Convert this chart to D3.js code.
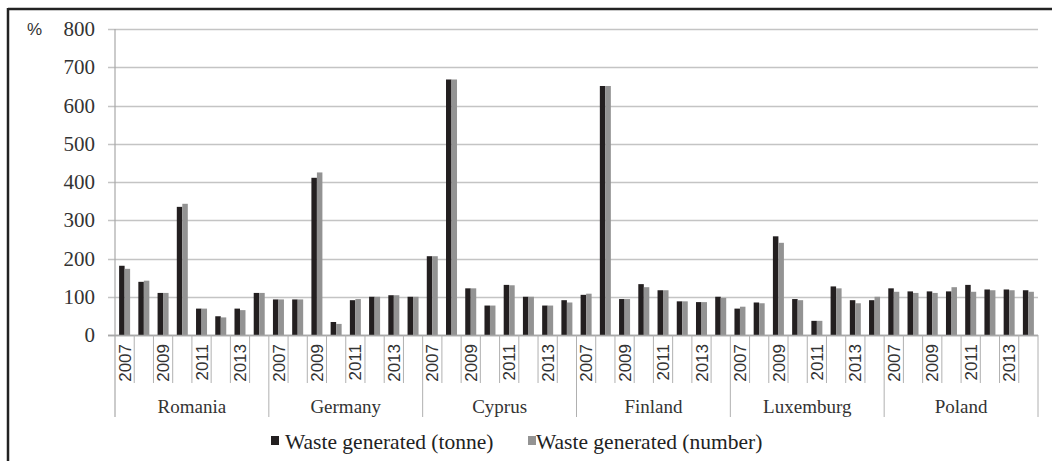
<!DOCTYPE html>
<html>
<head>
<meta charset="utf-8">
<script src="https://cdn.jsdelivr.net/npm/d3@7"></script>
<style>
  html, body { margin: 0; padding: 0; background: #fff; }
  svg { display: block; }
  .serif { font-family: 'Liberation Serif', 'DejaVu Serif', 'Times New Roman', serif; }
  .sans { font-family: 'Liberation Sans', Arial, sans-serif; }
</style>
</head>
<body>
<svg id="chart" width="1052" height="461"></svg>
<script>
const countries = ["Romania", "Germany", "Cyprus", "Finland", "Luxemburg", "Poland"];
const years = [2007, 2008, 2009, 2010, 2011, 2012, 2013, 2014];
const labeledYears = [2007, 2009, 2011, 2013];
const yTicks = [0, 100, 200, 300, 400, 500, 600, 700, 800];
const seriesNames = ["Waste generated (tonne)", "Waste generated (number)"];

// values per country, 2007..2014
const tonne = [
  181, 139, 110, 335, 69, 49, 69, 110,   // Romania
  93, 93, 411, 34, 91, 100, 104, 100,    // Germany
  206, 668, 122, 77, 131, 100, 77, 91,   // Cyprus
  105, 651, 94, 133, 117, 88, 86, 100,   // Finland
  69, 85, 258, 94, 37, 127, 91, 91,      // Luxemburg
  122, 114, 114, 114, 131, 119, 119, 117 // Poland
];
const number = [
  173, 142, 110, 343, 69, 46, 65, 110,
  93, 93, 425, 29, 94, 100, 104, 100,
  206, 668, 122, 77, 130, 100, 77, 85,
  108, 651, 94, 125, 117, 88, 86, 97,
  74, 83, 241, 91, 37, 122, 83, 100,
  113, 110, 110, 125, 113, 117, 117, 113
];

(function () {
const svg = d3.select("#chart");
const pLeft = 115, pRight = 1038, pTop = 29, pBottom = 335;

const keys = [];
countries.forEach(c => years.forEach(yr => keys.push(c + "|" + yr)));

const x = d3.scaleBand().domain(keys).range([pLeft, pRight]).paddingInner(0).paddingOuter(0);
const y = d3.scaleLinear().domain([0, 800]).range([pBottom, pTop]);
const bw = 5.5;

// frame
svg.append("line").attr("x1", 8).attr("x2", 1052).attr("y1", 9).attr("y2", 9)
  .attr("stroke", "#222").attr("stroke-width", 2.5);
svg.append("line").attr("x1", 8).attr("x2", 8).attr("y1", 8).attr("y2", 461)
  .attr("stroke", "#222").attr("stroke-width", 2.5);

// gridlines + y tick marks
svg.append("g").selectAll("line").data(yTicks).join("line")
  .attr("x1", pLeft - 7).attr("x2", pRight)
  .attr("y1", d => Math.round(y(d)) + 0.5).attr("y2", d => Math.round(y(d)) + 0.5)
  .attr("stroke", d => d === 0 ? "#a8a8a8" : "#c4c4c4").attr("stroke-width", 1.3);

// y tick labels
svg.append("g").selectAll("text").data(yTicks).join("text")
  .attr("class", "serif")
  .attr("x", 95).attr("y", d => y(d)).attr("dy", "0.34em")
  .attr("text-anchor", "end")
  .attr("font-size", 21).attr("fill", "#333")
  .text(d => d);

svg.append("text").attr("class", "sans").attr("x", 27).attr("y", 29).attr("dy", "0.36em")
  .attr("font-size", 17).attr("fill", "#333").text("%");

// y axis line
svg.append("line").attr("x1", pLeft).attr("x2", pLeft).attr("y1", pTop).attr("y2", 417)
  .attr("stroke", "#a8a8a8").attr("stroke-width", 1.2);

// bars
const data = keys.map((k, i) => ({ key: k, t: tonne[i], n: number[i] }));
const g = svg.append("g");
g.selectAll("rect.t").data(data).join("rect").attr("class", "t")
  .attr("x", d => x(d.key) + x.bandwidth() / 2 - bw)
  .attr("width", bw)
  .attr("y", d => y(d.t)).attr("height", d => y(0) - y(d.t))
  .attr("fill", "#231f20");
g.selectAll("rect.n").data(data).join("rect").attr("class", "n")
  .attr("x", d => x(d.key) + x.bandwidth() / 2)
  .attr("width", bw)
  .attr("y", d => y(d.n)).attr("height", d => y(0) - y(d.n))
  .attr("fill", "#939393");

// redraw axis baseline over bars
svg.append("line").attr("x1", pLeft - 7).attr("x2", pRight).attr("y1", pBottom + 0.5).attr("y2", pBottom + 0.5)
  .attr("stroke", "#a8a8a8").attr("stroke-width", 1.3);

// year dividers
svg.append("g").selectAll("line").data(keys).join("line")
  .attr("x1", d => x(d) + x.bandwidth()).attr("x2", d => x(d) + x.bandwidth())
  .attr("y1", pBottom).attr("y2", d => (d.endsWith("2014")) ? 417 : 383)
  .attr("stroke", "#b0b0b0").attr("stroke-width", 1);

// year labels
svg.append("g").selectAll("text").data(keys.filter(k => labeledYears.includes(+k.split("|")[1]))).join("text")
  .attr("class", "sans")
  .attr("transform", d => `translate(${x(d) + x.bandwidth() / 2},344) rotate(-90)`)
  .attr("text-anchor", "end").attr("dy", "0.36em")
  .attr("font-size", 17).attr("fill", "#333")
  .text(d => d.split("|")[1]);

// country labels
svg.append("g").selectAll("text").data(countries).join("text")
  .attr("class", "serif")
  .attr("x", c => (x(c + "|2007") + x(c + "|2014") + x.bandwidth()) / 2)
  .attr("y", 406).attr("dy", "0.35em")
  .attr("text-anchor", "middle")
  .attr("font-size", 19).attr("fill", "#333")
  .text(c => c);

// legend
const legend = [
  { name: seriesNames[0], color: "#231f20", sx: 271, tx: 285 },
  { name: seriesNames[1], color: "#939393", sx: 528, tx: 536 }
];
const lg = svg.append("g").selectAll("g").data(legend).join("g");
lg.append("rect").attr("x", d => d.sx).attr("y", 436).attr("width", 8).attr("height", 9)
  .attr("fill", d => d.color);
lg.append("text").attr("class", "serif").attr("x", d => d.tx).attr("y", 441).attr("dy", "0.35em")
  .attr("font-size", 21.5).attr("fill", "#222")
  .text(d => d.name);
})();
</script>
</body>
</html>
